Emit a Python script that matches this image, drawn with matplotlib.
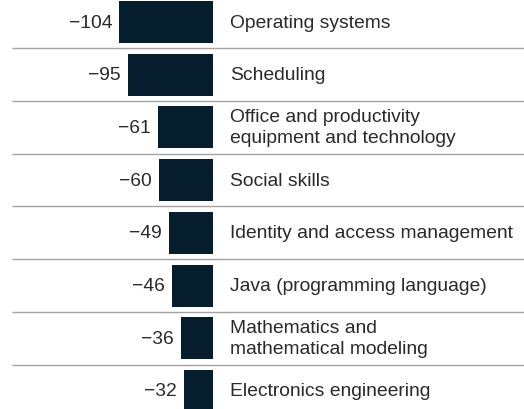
import matplotlib
matplotlib.use("Agg")
import matplotlib.pyplot as plt

# Skill change values and labels, top to bottom
skills = [
    "Operating systems",
    "Scheduling",
    "Office and productivity\nequipment and technology",
    "Social skills",
    "Identity and access management",
    "Java (programming language)",
    "Mathematics and\nmathematical modeling",
    "Electronics engineering",
]
values = [-104, -95, -61, -60, -49, -46, -36, -32]

BAR_COLOR = "#061d2d"
TEXT_COLOR = "#2a2a2a"
RULE_COLOR = "#a3a3a3"
FONT = "Liberation Sans"
FS = 13.9

fig = plt.figure(figsize=(5.24, 4.10), dpi=100)
ax = fig.add_axes([0, 0, 1, 1])

px_per_unit = 0.9
zero_px = 213
row_px = 52.7
first_center_px = 23
W, H = 524, 410

ax.set_xlim(-zero_px / px_per_unit, (W - zero_px) / px_per_unit)
ax.set_ylim((H - first_center_px) / row_px, -first_center_px / row_px)

ys = list(range(len(values)))
ax.barh(ys, values, height=42 / row_px, color=BAR_COLOR, left=0)

pad_val = 7 / px_per_unit
pad_lbl = 17 / px_per_unit
for y, v, name in zip(ys, values, skills):
    ax.text(v - pad_val, y, f"\u2212{abs(v)}", ha="right", va="center",
            fontsize=FS, family=FONT, color=TEXT_COLOR)
    ax.text(pad_lbl, y, name, ha="left", va="center", fontsize=FS,
            family=FONT, color=TEXT_COLOR, linespacing=1.3)

# Thin rules between rows
rule_left = -(zero_px - 12) / px_per_unit
for y in ys[:-1]:
    ax.plot([rule_left, ax.get_xlim()[1]], [y + 0.5, y + 0.5],
            color=RULE_COLOR, lw=1.0, solid_capstyle="butt")

ax.axis("off")
fig.savefig("out.png", dpi=100)
